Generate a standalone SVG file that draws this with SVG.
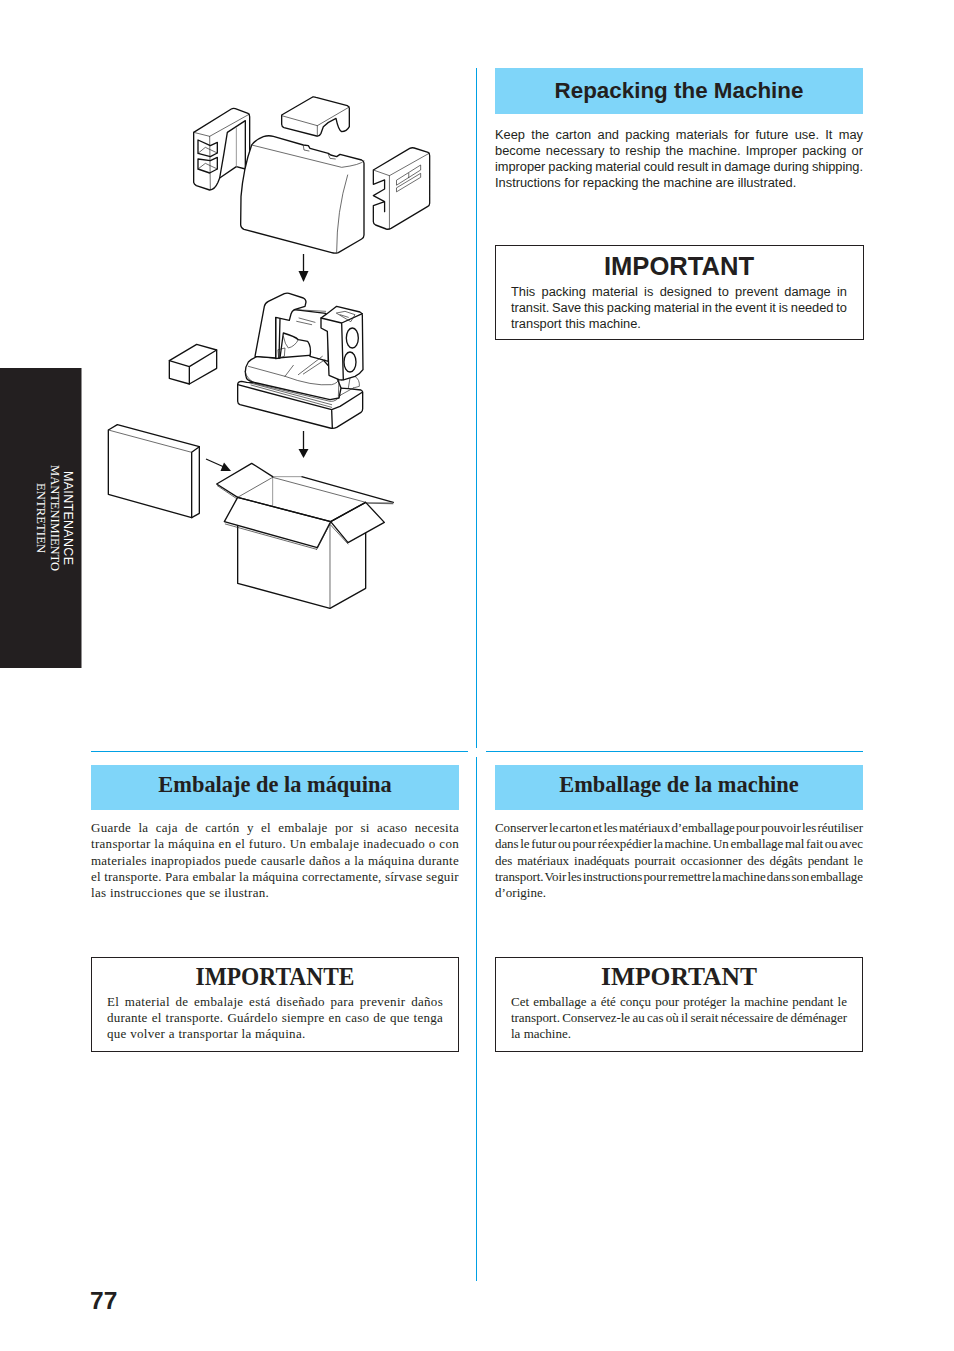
<svg xmlns="http://www.w3.org/2000/svg" width="954" height="1351" viewBox="0 0 954 1351">
<style>
.s{font-family:"Liberation Sans",Arial,sans-serif;fill:#231f20}
.r{font-family:"Liberation Serif","Times New Roman",serif;fill:#231f20}
.b{font-size:12.85px}
.es{font-size:13px;letter-spacing:.3px}
.fr{font-size:13px}
.h{font-size:22.4px;font-weight:bold;text-anchor:middle}
.t{font-size:25.6px;font-weight:bold;text-anchor:middle}
.band{fill:#7fd5f9}
.box{fill:#fff;stroke:#231f20;stroke-width:1}
.rule{stroke:#00a0e4;stroke-width:1;fill:none}
.side{fill:#fff;font-size:12.5px;text-anchor:middle}
.ln{fill:#fff;stroke:#111;stroke-width:4;stroke-linejoin:round;stroke-linecap:round}
.th{fill:none;stroke:#222;stroke-width:2;stroke-linejoin:round;stroke-linecap:round}
.nf{fill:none;stroke:#111;stroke-width:4;stroke-linejoin:round;stroke-linecap:round}
.wf{fill:#fff;stroke:none}
.gr{fill:none;stroke:#999;stroke-width:3}
</style>
<rect id="side-tab" x="0" y="368" width="81.500" height="300" fill="#231f20"/>
<g id="side-labels">
<text class="side" style="font-family:'Liberation Sans',Arial,sans-serif" transform="translate(64,518) rotate(90)" textLength="94">MAINTENANCE</text>
<text class="side" style="font-family:'Liberation Serif',serif" transform="translate(50.500,518) rotate(90)" textLength="106">MANTENIMIENTO</text>
<text class="side" style="font-family:'Liberation Serif',serif" transform="translate(37,518) rotate(90)" textLength="70">ENTRETIEN</text>
</g>
<g id="rules">
<path class="rule" d="M476.500 68V748M476.500 757V1281M91 751.500H468M486 751.500H863"/>
</g>

<g id="foam-left" transform="translate(188,104) scale(.33333)">
<path class="ln" d="M17,85 L130,15 Q135,12 142,14 L180,28 Q185,31 185,38 L185,195 L172,195 L145,188 L95,222 L90,235 Q80,258 65,258 L25,245 Q18,240 17,235Z"/>
<path class="th" d="M17,85 L65,97 L185,30 M65,97 L67,257"/>
<path class="nf" d="M118,85 L172,50 L172,195 M118,85 Q108,150 95,222"/>
<path class="gr" d="M145,70 L145,188"/>
<path class="nf" d="M30,108 L30,148 L67,158 L88,147 L88,115 L67,125Z M30,165 L30,195 L65,207 L88,195 L88,160 L67,170Z"/>
<path class="th" d="M30,148 L52,130 L88,147 M30,195 L52,178 L88,195"/>
</g>
<g id="foam-top" transform="translate(160,85) scale(.33333)">
<path class="ln" d="M365,90 L458,36 Q462,35 468,37 L562,62 Q568,65 568,70 L568,125 Q560,140 545,140 Q535,135 528,100 Q505,110 490,125 L483,145 Q478,155 470,153 L372,128 Q365,125 365,118Z"/>
<path class="th" d="M365,92 L472,122 L568,66 M472,122 L472,153"/>
</g>
<g id="cover" transform="translate(160,85) scale(.33333)">
<path class="ln" d="M275,180 Q250,250 243,335 L242,420 Q243,430 252,433 L515,503 Q525,506 535,503 L605,462 Q612,458 612,450 L612,235 Q612,228 605,225 L540,208 L530,215 L512,210 L505,205 L450,190 L445,182 L430,180 L340,154 Q325,150 310,155 Q285,165 275,180Z"/>
<path class="th" d="M275,180 L545,247 Q600,240 612,228 M563,270 Q530,380 530,500 M430,182 L432,195 L447,198 M505,208 L510,220 L526,222"/>
</g>
<g id="foam-right" transform="translate(368.500,145) scale(.322,.33333)">
<path class="ln" d="M15,75 L128,10 Q135,7 142,9 L185,22 Q190,25 190,32 L190,175 Q190,182 183,185 L70,250 Q62,254 55,252 L22,240 Q15,236 15,230 L15,182 L50,170 L50,200 L50,170 L15,152 L50,132 L50,105 L15,118Z"/>
<path class="th" d="M15,75 L65,92 L190,24 M65,92 L65,252"/>
<path class="th" d="M88,105 L162,60 L162,75 L88,120Z M88,128 L162,85 L162,97 L88,140Z M125,85 L125,98"/>
</g>

<g id="packing-block" transform="translate(160,280) scale(.33333)">
<path class="ln" d="M28,242 L110,193 L170,210 L170,265 L88,312 L28,295Z"/>
<path class="nf" d="M28,242 L88,260 L170,210 M88,260 L88,312"/>
</g>

<g id="machine" transform="translate(235,288) scale(.33333)">
<path class="ln" d="M8,290 Q8,280 20,280 L35,283 L340,302 L378,306 Q383,308 383,314 L383,362 Q383,370 378,373 L305,418 Q295,423 285,420 L15,350 Q8,347 8,340Z"/>
<path class="nf" d="M8,290 L290,365 L315,355 L383,312 M290,365 L292,420"/>
<path class="ln" d="M35,272 Q25,245 40,222 Q50,212 68,205 L125,210 L250,200 L300,255 L318,300 L312,330 L285,335 L65,285 Q40,280 35,272Z"/>
<path class="th" d="M30,250 Q35,275 65,288 L285,340 Q305,342 316,322 M42,284 L290,350 M48,291 L290,358 M40,235 L150,265 L175,232 M150,265 Q230,295 290,290 Q310,285 313,272"/>
<path class="ln" d="M178,65 L272,76 L280,100 L280,220 L225,205 Q230,175 218,160 L190,155 Q180,145 145,135 L135,210 L122,212 L122,90Z"/>
<path class="th" d="M192,90 L240,103 M185,100 L230,110 M145,145 Q150,170 160,180 Q180,175 190,155 M178,65 L272,70 M190,260 L262,205 M205,258 L270,215"/>
<path class="th" d="M130,185 L150,180 L148,205 L132,210Z"/>
<path class="ln" d="M60,205 L88,55 Q90,45 100,40 L148,17 Q155,14 162,16 L205,30 Q213,34 213,42 L210,55 L178,65 Q170,70 168,78 L163,97 L122,88 L122,210Z"/>
<path class="nf" d="M135,92 L132,210"/>
<path class="th" d="M360,265 Q375,275 373,295 L355,300 M345,270 L340,300 M312,275 L310,325 L355,300"/>
<path class="ln" d="M258,90 L272,80 L305,55 L375,72 Q382,75 382,82 L384,245 Q375,258 360,265 L328,275 Q320,277 312,275 L282,262 L277,130 L258,120Z"/>
<path class="nf" d="M258,90 L320,105 L382,77 M320,105 L325,275"/>
<path class="th" d="M305,75 L330,70 L360,80 L348,100Z M315,80 L340,88"/>
<ellipse class="nf" cx="352" cy="150" rx="18" ry="30"/>
<ellipse class="nf" cx="345" cy="222" rx="18" ry="30"/>
</g>

<g id="carton-lid" transform="translate(100,420) scale(.33333)">
<path class="ln" d="M25,30 L52,14 L298,80 L298,280 L275,293 L25,223Z"/>
<path class="nf" d="M275,97 L298,80 M275,97 L275,293"/>
<path class="th" d="M25,30 L275,97"/>
</g>

<g id="carton" transform="translate(100,420) scale(.33333)">
<path class="wf" d="M605,170 L880,247 L880,252 L797,247 L518,172Z"/>
<path class="nf" d="M605,170 L880,247"/>
<path class="gr" d="M518,170 L605,170"/>
<path class="th" d="M518,172 L797,247"/>
<path d="M800,249 L880,250" fill="none" stroke="#666" stroke-width="5"/>
<path class="gr" d="M518,172 L518,258"/>
<path class="wf" d="M350,192 L455,130 L518,170 L413,232Z"/>
<path class="nf" d="M413,232 L350,192 L455,130 L518,170"/>
<path class="th" d="M518,172 L413,232 M352,197 L410,236"/>
<path class="ln" d="M413,310 L413,490 L690,565 L797,505 L797,330 L690,305Z"/>
<path class="ln" d="M692,305 L744,368 L853,307 L797,247Z"/>
<path class="th" d="M692,315 L744,372"/>
<path class="ln" d="M413,232 L373,305 L652,383 L692,305Z"/>
<path class="th" d="M376,312 L650,388 M650,388 L690,312"/>
<path class="th" d="M690,310 L690,565"/>
<path class="nf" d="M413,232 L692,305 L797,247"/>
</g>

<g id="connectors">
<path d="M303.500 254V272" stroke="#111" stroke-width="1.300" fill="none"/>
<path d="M298.500 271H308.500L303.500 282Z" fill="#111"/>
<path d="M303.500 431V449" stroke="#111" stroke-width="1.300" fill="none"/>
<path d="M298.500 449H308.500L303.500 458Z" fill="#111"/>
<path d="M206 459L224 467" stroke="#111" stroke-width="1.100" fill="none"/>
<path d="M224 462.500L231 471H220.500Z" fill="#111"/>
</g>

<g id="repacking-en">
<rect class="band" x="495" y="68" width="368" height="46"/>
<text class="s h" x="679" y="97.500">Repacking the Machine</text>
<g class="s b">
<text x="495" y="139" textLength="368" word-spacing="2.730">Keep the carton and packing materials for future use. It may</text>
<text x="495" y="155" textLength="368" word-spacing="1.540">become necessary to reship the machine. Improper packing or</text>
<text x="495" y="171" textLength="368" word-spacing="-.500">improper packing material could result in damage during shipping.</text>
<text x="495" y="187">Instructions for repacking the machine are illustrated.</text>
</g>
</g>
<g id="important-en">
<rect class="box" x="495.500" y="245.500" width="368" height="94"/>
<text class="s t" x="679" y="275">IMPORTANT</text>
<g class="s b">
<text x="511" y="296" textLength="336" word-spacing="2.700">This packing material is designed to prevent damage in</text>
<text x="511" y="312" textLength="336" word-spacing="-.600">transit. Save this packing material in the event it is needed to</text>
<text x="511" y="328">transport this machine.</text>
</g>
</g>

<g id="repacking-es">
<rect class="band" x="91" y="765" width="368" height="45"/>
<text class="r h" x="275" y="791.500">Embalaje de la máquina</text>
<g class="r es">
<text x="91" y="832" textLength="368" word-spacing="3.760">Guarde la caja de cartón y el embalaje por si acaso necesita</text>
<text x="91" y="848" textLength="368" word-spacing=".160">transportar la máquina en el futuro. Un embalaje inadecuado o con</text>
<text x="91" y="865" textLength="368" word-spacing=".360">materiales inapropiados puede causarle daños a la máquina durante</text>
<text x="91" y="881" textLength="368">el transporte. Para embalar la máquina correctamente, sírvase seguir</text>
<text x="91" y="897">las instrucciones que se ilustran.</text>
</g>
</g>
<g id="important-es">
<rect class="box" x="91.500" y="957.500" width="367" height="94"/>
<text class="r t" x="275" y="984.500" textLength="159" lengthAdjust="spacingAndGlyphs">IMPORTANTE</text>
<g class="r es">
<text x="107" y="1006" textLength="336" word-spacing="2.100">El material de embalaje está diseñado para prevenir daños</text>
<text x="107" y="1022" textLength="336" word-spacing=".550">durante el transporte. Guárdelo siempre en caso de que tenga</text>
<text x="107" y="1038">que volver a transportar la máquina.</text>
</g>
</g>

<g id="repacking-fr">
<rect class="band" x="495" y="765" width="368" height="45"/>
<text class="r h" x="679" y="791.500">Emballage de la machine</text>
<g class="r fr">
<text x="495" y="832" textLength="368" word-spacing="-1.800">Conserver le carton et les matériaux d’emballage pour pouvoir les réutiliser</text>
<text x="495" y="848" textLength="368" word-spacing="-1.400">dans le futur ou pour réexpédier la machine. Un emballage mal fait ou avec</text>
<text x="495" y="865" textLength="368" word-spacing="1.780">des matériaux inadéquats pourrait occasionner des dégâts pendant le</text>
<text x="495" y="881" textLength="368" word-spacing="-1.900">transport. Voir les instructions pour remettre la machine dans son emballage</text>
<text x="495" y="897">d’origine.</text>
</g>
</g>
<g id="important-fr">
<rect class="box" x="495.500" y="957.500" width="367" height="94"/>
<text class="r t" x="679" y="984.500" textLength="156" lengthAdjust="spacingAndGlyphs">IMPORTANT</text>
<g class="r fr">
<text x="511" y="1006" textLength="336" word-spacing=".900">Cet emballage a été conçu pour protéger la machine pendant le</text>
<text x="511" y="1022" textLength="336" word-spacing="-.800">transport. Conservez-le au cas où il serait nécessaire de déménager</text>
<text x="511" y="1038">la machine.</text>
</g>
</g>

<text id="page-number" class="s" x="90" y="1309" font-size="24.500" font-weight="bold">77</text>
</svg>
